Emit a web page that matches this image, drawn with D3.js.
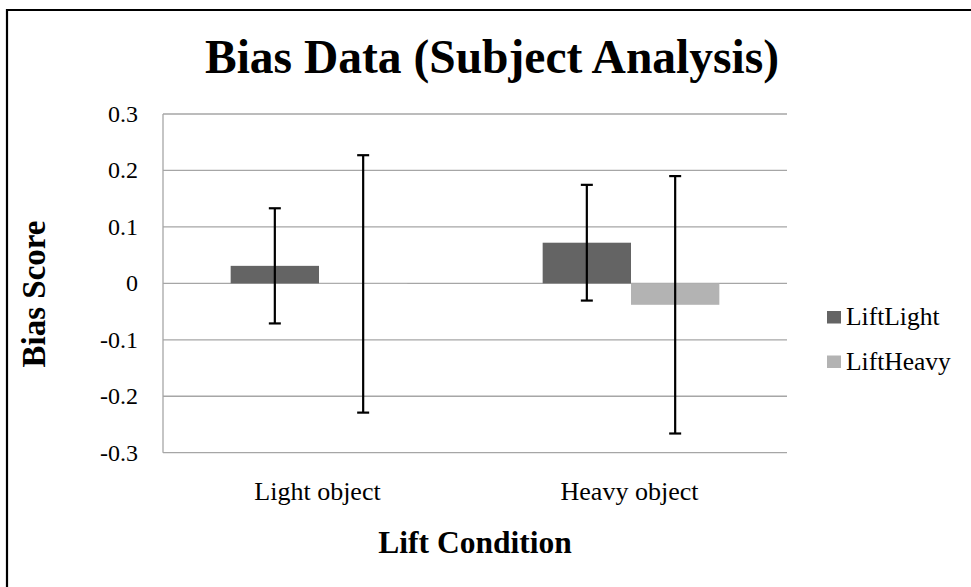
<!DOCTYPE html>
<html>
<head>
<meta charset="utf-8">
<script src="https://cdn.jsdelivr.net/npm/d3@7"></script>
<style>
  html, body { margin: 0; padding: 0; background: #fff; }
  svg { display: block; }
  text { font-family: "Liberation Serif", "Times New Roman", serif; fill: #000; }
</style>
</head>
<body>
<script>
const categories = ["Light object", "Heavy object"];
const seriesNames = ["LiftLight", "LiftHeavy"];
const liftLight = [0.031, 0.072];
const liftLightErr = [0.102, 0.1025];
const liftHeavy = [-0.001, -0.038];
const liftHeavyErr = [0.228, 0.228];
const yTicks = [0.3, 0.2, 0.1, 0, -0.1, -0.2, -0.3];
const yTickLabels = ["0.3", "0.2", "0.1", "0", "-0.1", "-0.2", "-0.3"];
const colors = ["#646464", "#b3b3b3"];

const W = 971, H = 587;
const svg = d3.select("body").append("svg").attr("width", W).attr("height", H);

// frame (top & left edges visible)
svg.append("line").attr("x1", 7).attr("x2", 7).attr("y1", 9).attr("y2", H).attr("stroke", "#000").attr("stroke-width", 2.2);
svg.append("line").attr("x1", 6).attr("x2", W).attr("y1", 10).attr("y2", 10).attr("stroke", "#000").attr("stroke-width", 2.2);

const plot = { left: 163, right: 787, top: 114, bottom: 452.7 };

const y = d3.scaleLinear().domain([-0.3, 0.3]).range([plot.bottom, plot.top]);
const x0 = d3.scaleBand().domain(categories).range([plot.left, plot.right]).padding(0);
const x1 = d3.scaleBand().domain(seriesNames).range([0, x0.bandwidth()]).paddingInner(0).paddingOuter(0.766);

// gridlines
svg.append("g").selectAll("line").data(yTicks).join("line")
  .attr("x1", plot.left).attr("x2", plot.right)
  .attr("y1", d => y(d)).attr("y2", d => y(d))
  .attr("stroke", "#a6a6a6").attr("stroke-width", 1.3);

// y axis line
svg.append("line").attr("x1", plot.left).attr("x2", plot.left)
  .attr("y1", plot.top).attr("y2", plot.bottom)
  .attr("stroke", "#a6a6a6").attr("stroke-width", 1.3);

// y tick labels
svg.append("g").selectAll("text").data(yTicks).join("text")
  .attr("x", 138).attr("y", d => y(d) + 8)
  .attr("text-anchor", "end").attr("font-size", 24)
  .text((d, i) => yTickLabels[i]);

// bars
const rows = categories.map((c, i) => [
  { cat: c, s: seriesNames[0], v: liftLight[i], e: liftLightErr[i], col: colors[0] },
  { cat: c, s: seriesNames[1], v: liftHeavy[i], e: liftHeavyErr[i], col: colors[1] }
]).flat();

svg.append("g").selectAll("rect").data(rows).join("rect")
  .attr("x", d => x0(d.cat) + x1(d.s))
  .attr("width", x1.bandwidth())
  .attr("y", d => y(Math.max(0, d.v)))
  .attr("height", d => Math.abs(y(d.v) - y(0)))
  .attr("fill", d => d.col);

// error bars
const eb = svg.append("g").attr("stroke", "#000").attr("stroke-width", 2.2);
rows.forEach(d => {
  const cx = x0(d.cat) + x1(d.s) + x1.bandwidth() / 2;
  const yt = y(d.v + d.e), yb = y(d.v - d.e);
  eb.append("line").attr("x1", cx).attr("x2", cx).attr("y1", yt).attr("y2", yb);
  eb.append("line").attr("x1", cx - 6).attr("x2", cx + 6).attr("y1", yt).attr("y2", yt);
  eb.append("line").attr("x1", cx - 6).attr("x2", cx + 6).attr("y1", yb).attr("y2", yb);
});

// category labels
svg.append("g").selectAll("text").data(categories).join("text")
  .attr("x", d => x0(d) + x0.bandwidth() / 2 - 1.5)
  .attr("y", 500)
  .attr("text-anchor", "middle").attr("font-size", 26)
  .text(d => d);

// title
svg.append("text").attr("x", 492).attr("y", 72.5)
  .attr("text-anchor", "middle").attr("font-size", 47.5).attr("font-weight", "bold")
  .text("Bias Data (Subject Analysis)");

// x axis title
svg.append("text").attr("x", (plot.left + plot.right) / 2).attr("y", 553)
  .attr("text-anchor", "middle").attr("font-size", 31.5).attr("font-weight", "bold")
  .text("Lift Condition");

// y axis title
svg.append("text").attr("transform", "translate(45,294) rotate(-90)")
  .attr("text-anchor", "middle").attr("font-size", 33).attr("font-weight", "bold")
  .text("Bias Score");

// legend
const lg = svg.append("g");
seriesNames.forEach((s, i) => {
  const yy = 311 + i * 44.5;
  lg.append("rect").attr("x", 827).attr("y", yy).attr("width", 14).attr("height", 12.5).attr("fill", colors[i]);
  lg.append("text").attr("x", 846).attr("y", yy + 14).attr("font-size", 25.5).text(s);
});
</script>
</body>
</html>
